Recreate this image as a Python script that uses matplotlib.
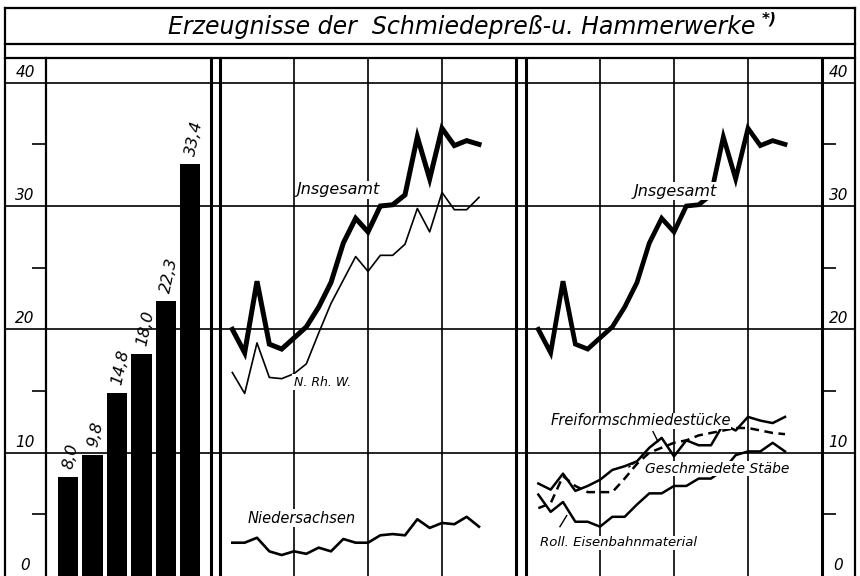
import matplotlib
matplotlib.use("Agg")
import matplotlib.pyplot as plt

# ---------------- data ----------------
bar_values = [8.0, 9.8, 14.8, 18.0, 22.3, 33.4]
bar_labels = ["8,0", "9,8", "14,8", "18,0", "22,3", "33,4"]

months = list(range(1, 22))
insgesamt = [20.0, 18.1, 23.9, 18.8, 18.4, 19.3, 20.2, 21.8, 23.8, 27.0, 29.0,
             27.9, 30.0, 30.1, 30.9, 35.6, 32.2, 36.3, 34.9, 35.3, 35.0]
nrw = [16.5, 14.8, 18.9, 16.1, 16.0, 16.4, 17.2, 19.7, 22.1, 24.0, 25.9,
       24.7, 26.0, 26.0, 26.9, 29.8, 27.9, 31.1, 29.7, 29.7, 30.7]
niedersachsen = [2.7, 2.7, 3.1, 2.0, 1.7, 2.0, 1.8, 2.3, 2.0, 3.0, 2.7,
                 2.7, 3.3, 3.4, 3.3, 4.6, 3.9, 4.3, 4.2, 4.8, 4.0]
freiform = [7.5, 7.0, 8.3, 6.9, 7.3, 7.8, 8.6, 8.9, 9.3, 10.4, 11.2,
            9.7, 11.0, 10.6, 10.6, 12.3, 11.8, 12.9, 12.6, 12.4, 12.9]
geschmiedete = [5.5, 5.9, 8.1, 7.3, 6.8, 6.8, 6.8, 7.9, 9.1, 10.0, 10.4,
                10.8, 11.0, 11.4, 11.6, 11.8, 12.0, 12.0, 11.8, 11.6, 11.5]
roll = [6.6, 5.2, 6.0, 4.4, 4.4, 4.0, 4.8, 4.8, 5.8, 6.7, 6.7,
        7.3, 7.3, 7.9, 7.9, 8.6, 9.8, 10.1, 10.1, 10.8, 10.1]

y_major = [0, 10, 20, 30, 40]
y_major_labels = ["0", "10", "20", "30", "40"]
y_minor = [5, 15, 25, 35]
x_grid = [6, 12, 18]

TITLE = "Erzeugnisse der  Schmiedepreß-u. Hammerwerke"

# ---------------- layout ----------------
W, H = 860, 576
YTOP = 42.0
XMAX = 24
plt.rcParams["font.family"] = ["DejaVu Sans"]
plt.rcParams["font.style"] = "italic"

fig = plt.figure(figsize=(W / 100, H / 100), dpi=100)
fig.patch.set_facecolor("white")


def rect(x0, y0, x1, y1):
    return [x0 / W, 1 - y1 / H, (x1 - x0) / W, (y1 - y0) / H]


# frame axes in pixel units
axf = fig.add_axes([0, 0, 1, 1], zorder=0)
axf.set_xlim(0, W)
axf.set_ylim(H, 0)
axf.axis("off")
K = "black"
# outer border + title box
axf.plot([5, 855], [8, 8], color=K, lw=1.6)
axf.plot([5, 855], [44, 44], color=K, lw=1.6)
axf.plot([5, 855], [58, 58], color=K, lw=1.6)
axf.plot([5, 5], [8, H], color=K, lw=1.6)
axf.plot([855, 855], [8, H], color=K, lw=1.6)
for x, lw in [(46, 1.6), (211, 2.2), (220, 2.2), (516, 2.2), (526, 2.2), (822, 2.2)]:
    axf.plot([x, x], [58, H], color=K, lw=lw)

t = axf.text(462, 27, TITLE, ha="center", va="center", fontsize=17, style="italic")
axf.annotate("*)", xy=(1.0, 0.85), xycoords=t, xytext=(4, 0), textcoords="offset points",
             ha="left", va="center", fontsize=11, style="italic", fontweight="bold")

# grid axes across full width (pixel x, value y)
axg = fig.add_axes(rect(5, 58, 855, 576), zorder=1)
axg.set_xlim(5, 855)
axg.set_ylim(0, YTOP)
axg.axis("off")
axg.patch.set_alpha(0)
for v in y_major[1:]:
    axg.axhline(v, color=K, lw=1.2)
axg.hlines(y_minor, 32, 46, color=K, lw=1.2)
axg.hlines(y_minor, 822, 836, color=K, lw=1.2)
for v, lab in zip(y_major, y_major_labels):
    axg.text(25, v + 0.25, lab, ha="center", va="bottom", fontsize=11, style="italic")
    axg.text(838.5, v + 0.25, lab, ha="center", va="bottom", fontsize=11, style="italic")

# bar panel
axb = fig.add_axes(rect(46, 58, 211, 576), zorder=2)
axb.set_xlim(-0.9, 5.84)
axb.set_ylim(0, YTOP)
axb.axis("off")
axb.patch.set_alpha(0)
xs = list(range(len(bar_values)))
axb.bar(xs, bar_values, width=0.82, color=K)
for x, v, lab in zip(xs, bar_values, bar_labels):
    axb.text(x, v + 0.7, lab, rotation=78, rotation_mode="anchor", ha="left", va="center",
             fontsize=11.5, style="italic")

label_box = dict(facecolor="white", edgecolor="none", pad=1.0)

# middle panel
axm = fig.add_axes(rect(220, 58, 516, 576), zorder=2)
axm.set_xlim(0, XMAX)
axm.set_ylim(0, YTOP)
axm.axis("off")
axm.patch.set_alpha(0)
for g in x_grid:
    axm.axvline(g, color=K, lw=1.2, zorder=1)
axm.plot(months, insgesamt, color=K, lw=3.6, solid_joinstyle="miter", zorder=3)
axm.plot(months, nrw, color=K, lw=1.2, zorder=3)
axm.plot(months, niedersachsen, color=K, lw=1.9, zorder=3)
axm.text(9.6, 31.3, "Jnsgesamt", ha="center", va="center", fontsize=11.5, bbox=label_box, zorder=4)
axm.text(8.3, 15.7, "N. Rh. W.", ha="center", va="center", fontsize=9, bbox=label_box, zorder=4)
axm.text(6.6, 4.7, "Niedersachsen", ha="center", va="center", fontsize=10.5, bbox=label_box, zorder=4)

# right panel
axr = fig.add_axes(rect(526, 58, 822, 576), zorder=2)
axr.set_xlim(0, XMAX)
axr.set_ylim(0, YTOP)
axr.axis("off")
axr.patch.set_alpha(0)
for g in x_grid:
    axr.axvline(g, color=K, lw=1.2, zorder=1)
axr.plot(months, insgesamt, color=K, lw=3.4, solid_joinstyle="miter", zorder=3)
axr.plot(months, freiform, color=K, lw=1.8, zorder=3)
axr.plot(months, geschmiedete, color=K, lw=1.8, ls=(0, (3.5, 2.2)), zorder=3)
axr.plot(months, roll, color=K, lw=1.8, zorder=3)
axr.text(12.1, 31.2, "Jnsgesamt", ha="center", va="center", fontsize=11.5, bbox=label_box, zorder=4)
axr.text(9.3, 12.6, "Freiformschmiedestücke", ha="center", va="center", fontsize=10.5,
         bbox=dict(facecolor="white", edgecolor="none", pad=0.3), zorder=4)
axr.text(15.5, 8.7, "Geschmiedete Stäbe", ha="center", va="center", fontsize=10,
         bbox=dict(facecolor="white", edgecolor="none", pad=0.3), zorder=4)
axr.text(7.5, 2.7, "Roll. Eisenbahnmaterial", ha="center", va="center", fontsize=9.5,
         bbox=dict(facecolor="white", edgecolor="none", pad=0.3), zorder=4)
# leader strokes from labels to their lines
axr.plot([10.3, 10.7], [11.7, 10.9], color=K, lw=1.0, zorder=5)
axr.plot([8.3, 9.1], [8.8, 9.4], color=K, lw=1.0, ls=(0, (2, 1.5)), zorder=5)
axr.plot([2.75, 3.3], [4.0, 4.9], color=K, lw=1.0, zorder=5)

fig.savefig("out.png", dpi=100, facecolor="white")
